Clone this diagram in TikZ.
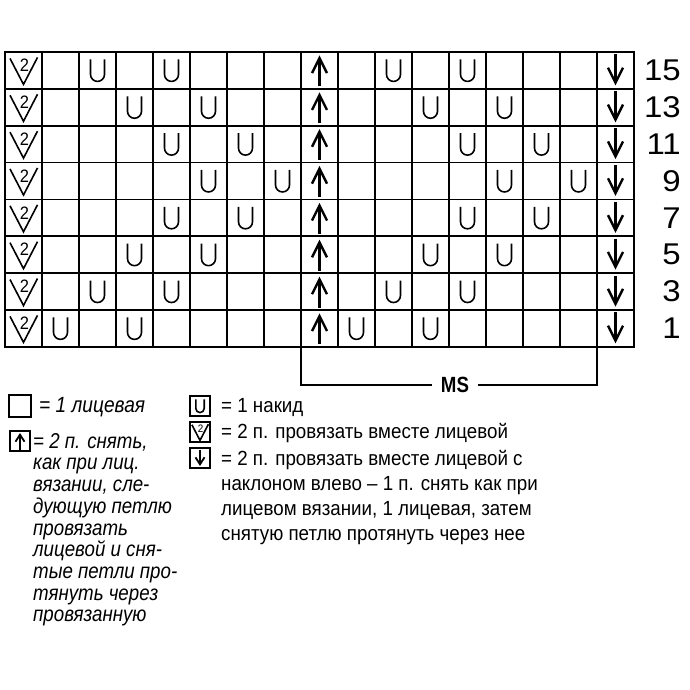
\documentclass[tikz,border=0pt]{standalone}
\usepackage{fontspec}
\setmainfont[FakeStretch=0.915]{Liberation Sans}
\newfontfamily\numfont[FakeStretch=1.1]{Liberation Sans}
\newfontfamily\msfont[FakeStretch=0.85]{Liberation Sans}
\newfontfamily\itfont[FakeStretch=0.87]{Liberation Sans Italic}
\usetikzlibrary{arrows.meta,positioning}

\tikzset{
    gridline/.style={line width=1.6pt},
    symline/.style={line width=1.6pt},
    legbox/.style={draw, line width=1.2pt, minimum width=20pt, minimum height=20pt, inner sep=0pt},
    arrline/.style={line width=2.8pt, -{Straight Barb[length=15pt,width=15pt,line width=2.4pt]}},
    legarr/.style={line width=2.2pt, -{Straight Barb[length=7pt,width=9pt,line width=1.8pt]}},
    yarn/.pic={\draw[symline] (-7,-11) -- (-7,4) arc (180:0:7) -- (7,-11);},
    ktog/.pic={\draw[symline] (-13.5,-12) -- (0,14) -- (14,-13);
               \node[transform shape, inner sep=0pt, font=\fontsize{18}{18}\selectfont] at (1,-5) {2};},
    uparr/.pic={\draw[arrline] (0,16) -- (0,-15);},
    dnarr/.pic={\draw[arrline] (0,-16) -- (0,15);},
    legup/.pic={\draw[legarr] (0,8.5) -- (0,-8);},
    legdn/.pic={\draw[legarr] (0,-8.5) -- (0,8);}
}

\begin{document}
\begin{tikzpicture}[x=1pt,y=-1pt]
        %--- Arguments ----
        \def \gl {5} % grid left
        \def \gt {52} % grid top
        \def \cw {37} % cell width
        \def \ch {36.85} % cell height
        \useasboundingbox (0,0) rectangle (689,690);
        %--- Grid ---
        \draw [gridline] (\gl,\gt) rectangle ({\gl+17*\cw},{\gt+8*\ch});
        \foreach \i in {1,...,16}
            \draw [gridline] ({\gl+\i*\cw},\gt) -- ({\gl+\i*\cw},{\gt+8*\ch});
        \foreach \j in {1,...,7}
            \draw [gridline] (\gl,{\gt+\j*\ch}) -- ({\gl+17*\cw},{\gt+\j*\ch});
        %--- Symbols and row numbers ---
        \foreach \r/\u/\n in {0/2/15,1/3/13,2/4/11,3/5/9,4/4/7,5/3/5,6/2/3,7/1/1} {
            \pic at ({\gl+0.5*\cw},{\gt+(\r+0.5)*\ch}) {ktog};
            \pic at ({\gl+8.5*\cw},{\gt+(\r+0.5)*\ch}) {uparr};
            \pic at ({\gl+16.5*\cw},{\gt+(\r+0.5)*\ch}) {dnarr};
            \foreach \c in {\u,\u+2,\u+8,\u+10}
                \pic at ({\gl+(\c+0.5)*\cw},{\gt+(\r+0.5)*\ch}) {yarn};
            \node [anchor=east, inner sep=0pt, font=\numfont\fontsize{30}{30}\selectfont] (row\n) at (681,{\gt+(\r+0.5)*\ch}) {\n};
        }
        %--- Repeat bracket ---
        \coordinate (msl) at ({\gl+8*\cw},{\gt+8*\ch});
        \coordinate (msr) at ({\gl+16*\cw},{\gt+8*\ch});
        \node [inner xsep=9pt, font=\msfont\bfseries\fontsize{22}{22}\selectfont] (ms) at (455,385) {MS};
        \draw [gridline] (msl) |- (ms.west);
        \draw [gridline] (msr) |- (ms.east);
        %--- Legend, left ---
        \node [legbox, minimum width=22pt, minimum height=22pt] (kbox) at (20,406) {};
        \node [anchor=west, inner sep=0pt, font=\itfont\fontsize{22}{22}\selectfont] (klab) at (39,407) {= 1 лицевая};
        \node [legbox] (sbox) at (20,441) {};
        \pic at (sbox.center) {legup};
        \node [anchor=north west, align=left, inner sep=0pt, font=\itfont\fontsize{21.5}{21.7}\selectfont] (slab) at (33,433)
            {= 2 п. снять,\\как при лиц.\\вязании, сле-\\дующую петлю\\провязать\\лицевой и сня-\\тые петли про-\\тянуть через\\провязанную};
        %--- Legend, right ---
        \node [legbox] (ubox) at (200,406) {};
        \pic [scale=0.6] at (ubox.center) {yarn};
        \node [anchor=west, inner sep=0pt, font=\fontsize{20.5}{20.5}\selectfont] (ulab) at (221,407) {= 1 накид};
        \node [legbox] (vbox) at (200,432) {};
        \pic [scale=0.6] at (vbox.center) {ktog};
        \node [anchor=west, inner sep=0pt, font=\fontsize{20.5}{20.5}\selectfont] (vlab) at (221,433) {= 2 п. провязать вместе лицевой};
        \node [legbox] (dbox) at (200,458) {};
        \pic at (dbox.center) {legdn};
        \node [anchor=north west, align=left, inner sep=0pt, font=\fontsize{20.5}{25}\selectfont] (dlab) at (221,450)
            {= 2 п. провязать вместе лицевой с\\наклоном влево – 1 п. снять как при\\лицевом вязании, 1 лицевая, затем\\снятую петлю протянуть через нее};
    \end{tikzpicture}
\end{document}
